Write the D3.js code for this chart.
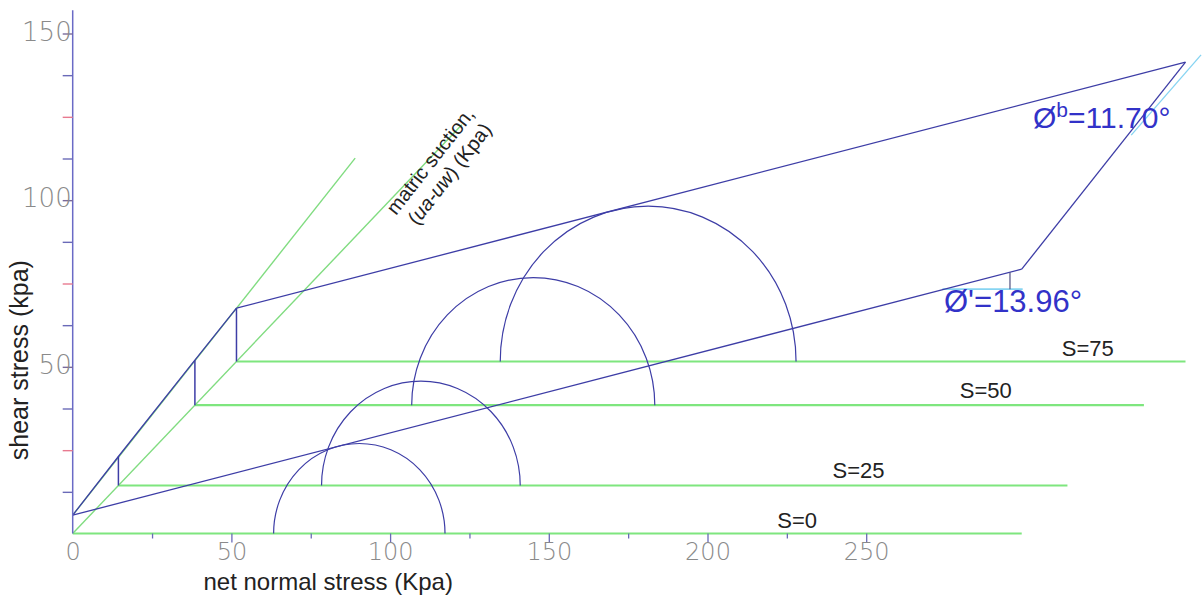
<!DOCTYPE html>
<html>
<head>
<meta charset="utf-8">
<script src="https://cdn.jsdelivr.net/npm/d3@7"></script>
<style>
body { margin: 0; background: #fff; }
text { font-family: "Liberation Sans", Arial, sans-serif; }
</style>
</head>
<body>
<div id="chart"></div>
<script>
// ---- data (kPa) ----
var suction = [0, 25, 50, 75];                 // matric suction of each plane
var planeShift = [0, 14.4, 38.5, 51.6];        // where each plane sits on the oblique suction axis
var cohesion = [5.5, 8.7, 13.5, 16.0];         // envelope intercept above each plane origin
var planeLength = 299;                         // net normal stress drawn on each plane
var envelopeRise = 73.8;                       // shear gained over planeLength
var mohrCentre = [90.3, 95.3, 106.6, 129.7];   // circle centres, net normal stress
var mohrRadius = [27.0, 31.3, 38.3, 46.6];
var suctionAxisEnd = [122.6, 122.6];
var phiBLineEnd = [89.0, 112.6];
var phiBRefStart = [333.5, 119.5];
var phiBRefEnd = [355.5, 143.6];
var phiPrimeRefSigma = [274, 299.3];
var phiPrimeRefTau = 73.3;
var phiPrimeMark = 295.3;
var xLabels = [0, 50, 100, 150, 200, 250];
var yLabels = [50, 100, 150];

// ---- layout ----
var margin = {top: 33.5, left: 72.7};
var width = 793.5, height = 500;

var svg = d3.select("#chart")
  .append("svg")
  .attr("width", 1202)
  .attr("height", 608)
  .append("g")
  .attr("transform", "translate(" + margin.left + "," + margin.top + ")");

var x = d3.scaleLinear().domain([0, 250]).range([0, width]);
var y = d3.scaleLinear().domain([0, 150]).range([height, 0]);

var blue = "#3d3da6", green = "#7ee67e", cyan = "#86d4f2";

function seg(a, b, color, w) {
  svg.append("line")
    .attr("x1", x(a[0])).attr("y1", y(a[1]))
    .attr("x2", x(b[0])).attr("y2", y(b[1]))
    .attr("stroke", color).attr("stroke-width", w);
}

// oblique suction axis + phi_b guide (thin green)
seg([0, 0], suctionAxisEnd, "#80dc80", 1.4);
seg([0, cohesion[0]], phiBLineEnd, "#80dc80", 1.4);

// the net normal stress axis of each suction plane
suction.forEach(function(s, i) {
  var d = planeShift[i];
  seg([d, d], [d + planeLength, d], green, 2.2);
});

// cyan angle guides
seg(phiBRefStart, phiBRefEnd, cyan, 1.3);
seg([phiPrimeRefSigma[0], phiPrimeRefTau], [phiPrimeRefSigma[1], phiPrimeRefTau], cyan, 1.6);

// Mohr circles
suction.forEach(function(s, i) {
  var d = planeShift[i];
  var c = d + mohrCentre[i], r = mohrRadius[i];
  var rx = x(r) - x(0), ry = y(0) - y(r);
  svg.append("path")
    .attr("d", "M" + x(c - r) + "," + y(d) + " A" + rx + "," + ry + " 0 0 1 " + x(c + r) + "," + y(d))
    .attr("fill", "none")
    .attr("stroke", blue)
    .attr("stroke-width", 1.2);
});

// failure envelope: S=0 and S=75 planes, joined into a parallelogram
var first = 0, last = suction.length - 1;
var a0 = [planeShift[first], planeShift[first] + cohesion[first]];
var b0 = [a0[0] + planeLength, a0[1] + envelopeRise];
var a1 = [planeShift[last], planeShift[last] + cohesion[last]];
var b1 = [a1[0] + planeLength, a1[1] + envelopeRise];
seg(a0, b0, blue, 1.3);
seg(a1, b1, blue, 1.3);
seg(b0, b1, blue, 1.3);

var edge = d3.line().x(function(p) { return x(p[0]); }).y(function(p) { return y(p[1]); });
svg.append("path")
  .datum(suction.map(function(s, i) { return [planeShift[i], planeShift[i] + cohesion[i]]; }))
  .attr("d", edge)
  .attr("fill", "none")
  .attr("stroke", blue)
  .attr("stroke-width", 1.3);

// apparent cohesion steps
suction.forEach(function(s, i) {
  if (i == 0) return;
  seg([planeShift[i], planeShift[i]], [planeShift[i], planeShift[i] + cohesion[i]], blue, 1.5);
});

// phi' marker
var env0 = d3.scaleLinear().domain([a0[0], b0[0]]).range([a0[1], b0[1]]);
seg([phiPrimeMark, env0(phiPrimeMark)], [phiPrimeMark, phiPrimeRefTau], "#505080", 1.2);

// ---- axes ----
svg.append("line")
  .attr("x1", 0).attr("x2", 0)
  .attr("y1", y(0)).attr("y2", y(157))
  .attr("stroke", "#6a6ac6").attr("stroke-width", 1.5);

var yAxis = svg.append("g")
  .call(d3.axisLeft(y)
    .tickValues(d3.range(12.5, 150.1, 12.5))
    .tickSize(10)
    .tickPadding(-9)
    .tickFormat(function(d) { return yLabels.indexOf(d) >= 0 ? d : ""; }));
yAxis.select(".domain").remove();
yAxis.selectAll(".tick line")
  .attr("stroke", function(d) {
    if (yLabels.indexOf(d) >= 0) return "#7a6a9a";
    return d % 25 == 0 ? "#e87a90" : "#6a6ab8";
  })
  .attr("stroke-width", 1.4);
yAxis.selectAll(".tick text")
  .style("font-family", "'DejaVu Sans', sans-serif")
  .style("font-weight", 200)
  .attr("font-size", 26)
  .attr("fill", "#8a8a8a")
  .attr("dy", "0.25em");

var xAxis = svg.append("g")
  .attr("transform", "translate(0," + height + ")")
  .call(d3.axisBottom(x)
    .tickValues(d3.range(0, 250.1, 25))
    .tickSize(8)
    .tickFormat(function(d) { return xLabels.indexOf(d) >= 0 ? d : ""; }));
xAxis.select(".domain").remove();
xAxis.selectAll(".tick line")
  .attr("stroke", "#6a6ab8")
  .attr("stroke-width", 1.3)
  .attr("y2", function(d) { return d == 0 ? 0 : (d % 50 == 0 ? 9 : 5); });
xAxis.selectAll(".tick text")
  .style("font-family", "'DejaVu Sans', sans-serif")
  .style("font-weight", 200)
  .attr("font-size", 24)
  .attr("fill", "#8a8a8a")
  .attr("y", 26.5)
  .attr("dy", 0);

// axis titles
svg.append("text")
  .attr("x", x(80.5)).attr("y", height + 56)
  .attr("text-anchor", "middle")
  .attr("font-size", 24)
  .attr("fill", "#222")
  .text("net normal stress (Kpa)");

svg.append("text")
  .attr("transform", "translate(" + (-45) + "," + (y(52)) + ") rotate(-90)")
  .attr("text-anchor", "middle")
  .attr("font-size", 25)
  .attr("fill", "#222")
  .text("shear stress (kpa)");

// plane labels
var labelSigma = [222, 225, 241, 260];
var labelLift = [6, 8, 7, 6];
suction.forEach(function(s, i) {
  svg.append("text")
    .attr("x", x(planeShift[i] + labelSigma[i]))
    .attr("y", y(planeShift[i]) - labelLift[i])
    .attr("font-size", 22)
    .attr("fill", "#222")
    .text("S=" + s);
});

// suction axis label
var ms = svg.append("text")
  .attr("transform", "translate(" + (396 - margin.left) + "," + (216 - margin.top) + ") rotate(-52)")
  .attr("font-size", 20)
  .attr("fill", "#222");
ms.append("tspan").attr("x", 0).attr("y", 0).text("matric suction,");
ms.append("tspan").attr("x", 5).attr("y", 23).text("(");
ms.append("tspan").attr("font-style", "italic").text("ua-uw");
ms.append("tspan").text(") (Kpa)");

// angle labels
var tb = svg.append("text")
  .attr("x", 1033 - margin.left).attr("y", 128 - margin.top)
  .attr("font-size", 30)
  .attr("fill", "#3232c8");
tb.append("tspan").text("\u00d8");
tb.append("tspan").attr("font-size", 21).attr("dy", -11).text("b");
tb.append("tspan").attr("dy", 11).text("=11.70\u00b0");

svg.append("text")
  .attr("x", 944 - margin.left).attr("y", 312 - margin.top)
  .attr("font-size", 31)
  .attr("fill", "#3232c8")
  .text("\u00d8'=13.96\u00b0");
</script>
</body>
</html>
